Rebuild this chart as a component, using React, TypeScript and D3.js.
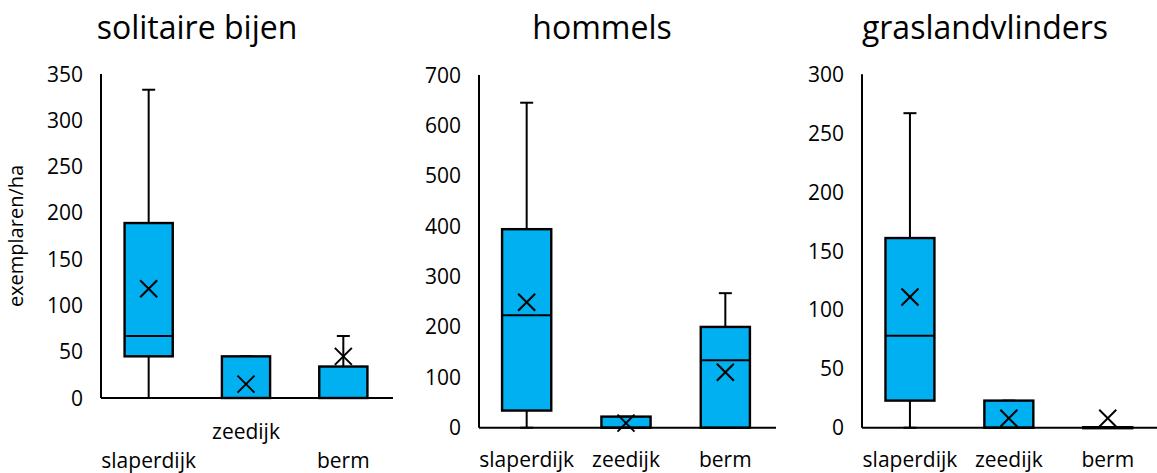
import React from "react";
import * as d3 from "d3";

const categories = ["slaperdijk", "zeedijk", "berm"];
const titles = ["solitaire bijen", "hommels", "graslandvlinders"];
const yMaxes = [350, 700, 300];
const yStepCounts = [7, 7, 6];

// per panel: [slaperdijk, zeedijk, berm]
const mins1 = [0, 0, 0];
const q1s1 = [45, 0, 0];
const medians1 = [67, 0, 0];
const q3s1 = [189, 45, 34];
const maxs1 = [333, 45, 67];
const means1 = [118, 15, 45];

const mins2 = [0, 0, 0];
const q1s2 = [34, 0, 0];
const medians2 = [223, 0, 134];
const q3s2 = [394, 22, 200];
const maxs2 = [645, 22, 267];
const means2 = [249, 9, 110];

const mins3 = [0, 0, 0];
const q1s3 = [23, 0, 0];
const medians3 = [78, 0, 0];
const q3s3 = [161, 23, 0];
const maxs3 = [267, 23, 0];
const means3 = [111, 8, 8];

const panelData = [
  { mins: mins1, q1s: q1s1, medians: medians1, q3s: q3s1, maxs: maxs1, means: means1 },
  { mins: mins2, q1s: q1s2, medians: medians2, q3s: q3s2, maxs: maxs2, means: means2 },
  { mins: mins3, q1s: q1s3, medians: medians3, q3s: q3s3, maxs: maxs3, means: means3 },
];

const layouts = [
  { axisX: 101, band: [100, 392], axisEnd: 393, top: 74, zero: 398, titleX: 197, labelY: [468, 439, 468] },
  { axisX: 479, band: [477, 775], axisEnd: 776, top: 75, zero: 427.7, titleX: 602, labelY: [467, 467, 467] },
  { axisX: 862, band: [860.5, 1157.2], axisEnd: 1157, top: 74.3, zero: 427.7, titleX: 985, labelY: [467, 467, 467] },
];

const FILL = "#00B0F0";
const FONT = "'Open Sans', 'Noto Sans', sans-serif";

function Panel({ idx }: { idx: number }) {
  const L = layouts[idx];
  const D = panelData[idx];
  const y = d3.scaleLinear().domain([0, yMaxes[idx]]).range([L.zero, L.top]);
  const x = d3.scaleBand().domain(categories).range(L.band as [number, number]).padding(0);
  const bw = x.bandwidth();
  const boxW = bw * 0.495;
  const capW = 13;
  const ticks = d3.range(0, yMaxes[idx] + 1, yMaxes[idx] / yStepCounts[idx]);
  const line = d3.line<[number, number]>();
  const SW = 2;
  return (
    <g>
      <text x={L.titleX} y={39} textAnchor="middle" fontSize={32} fontFamily={FONT} fill="#000">
        {titles[idx]}
      </text>
      {ticks.map((t) => (
        <text key={t} x={L.axisX - 18} y={y(t)} dy="0.36em" textAnchor="end" fontSize={21} fontFamily={FONT} fill="#000">
          {t}
        </text>
      ))}
      {categories.map((c, i) => {
        const cx = (x(c) as number) + bw / 2;
        const whiskerTop = line([[cx, y(D.maxs[i])], [cx, y(D.q3s[i])]]) as string;
        const whiskerBot = line([[cx, y(D.q1s[i])], [cx, y(D.mins[i])]]) as string;
        const my = y(D.means[i]);
        const m = 8.5;
        return (
          <g key={c}>
            <path d={whiskerTop} stroke="#000" strokeWidth={SW} fill="none" />
            <path d={whiskerBot} stroke="#000" strokeWidth={SW} fill="none" />
            <path d={line([[cx - capW / 2, y(D.maxs[i])], [cx + capW / 2, y(D.maxs[i])]]) as string} stroke="#000" strokeWidth={SW} />
            <path d={line([[cx - capW / 2, y(D.mins[i])], [cx + capW / 2, y(D.mins[i])]]) as string} stroke="#000" strokeWidth={SW} />
            <rect
              x={cx - boxW / 2}
              y={y(D.q3s[i]) - (y(D.q1s[i]) - y(D.q3s[i]) < 1 ? 0.5 : 0)}
              width={boxW}
              height={Math.max(1, y(D.q1s[i]) - y(D.q3s[i]))}
              fill={FILL}
              stroke="#000"
              strokeWidth={2.4}
            />
            <path d={line([[cx - boxW / 2, y(D.medians[i])], [cx + boxW / 2, y(D.medians[i])]]) as string} stroke="#000" strokeWidth={SW} />
            <path d={line([[cx - m, my - m], [cx + m, my + m]]) as string} stroke="#000" strokeWidth={SW} />
            <path d={line([[cx - m, my + m], [cx + m, my - m]]) as string} stroke="#000" strokeWidth={SW} />
            <text x={cx} y={L.labelY[i]} textAnchor="middle" fontSize={21} fontFamily={FONT} fill="#000">
              {c}
            </text>
          </g>
        );
      })}
      <path d={line([[L.axisX, L.top], [L.axisX, L.zero]]) as string} stroke="#000" strokeWidth={SW} />
      <path d={line([[L.axisX, L.zero], [L.axisEnd, L.zero]]) as string} stroke="#000" strokeWidth={SW} />
    </g>
  );
}

export default function App() {
  return (
    <svg width={1157} height={473} style={{ position: "absolute", left: 0, top: 0, background: "#fff" }}>
      <rect width={1157} height={473} fill="#fff" />
      {[0, 1, 2].map((i) => (
        <Panel key={i} idx={i} />
      ))}
      <text
        transform="translate(23,236) rotate(-90)"
        textAnchor="middle"
        fontSize={20}
        fontFamily={FONT}
        fill="#000"
      >
        exemplaren/ha
      </text>
    </svg>
  );
}
